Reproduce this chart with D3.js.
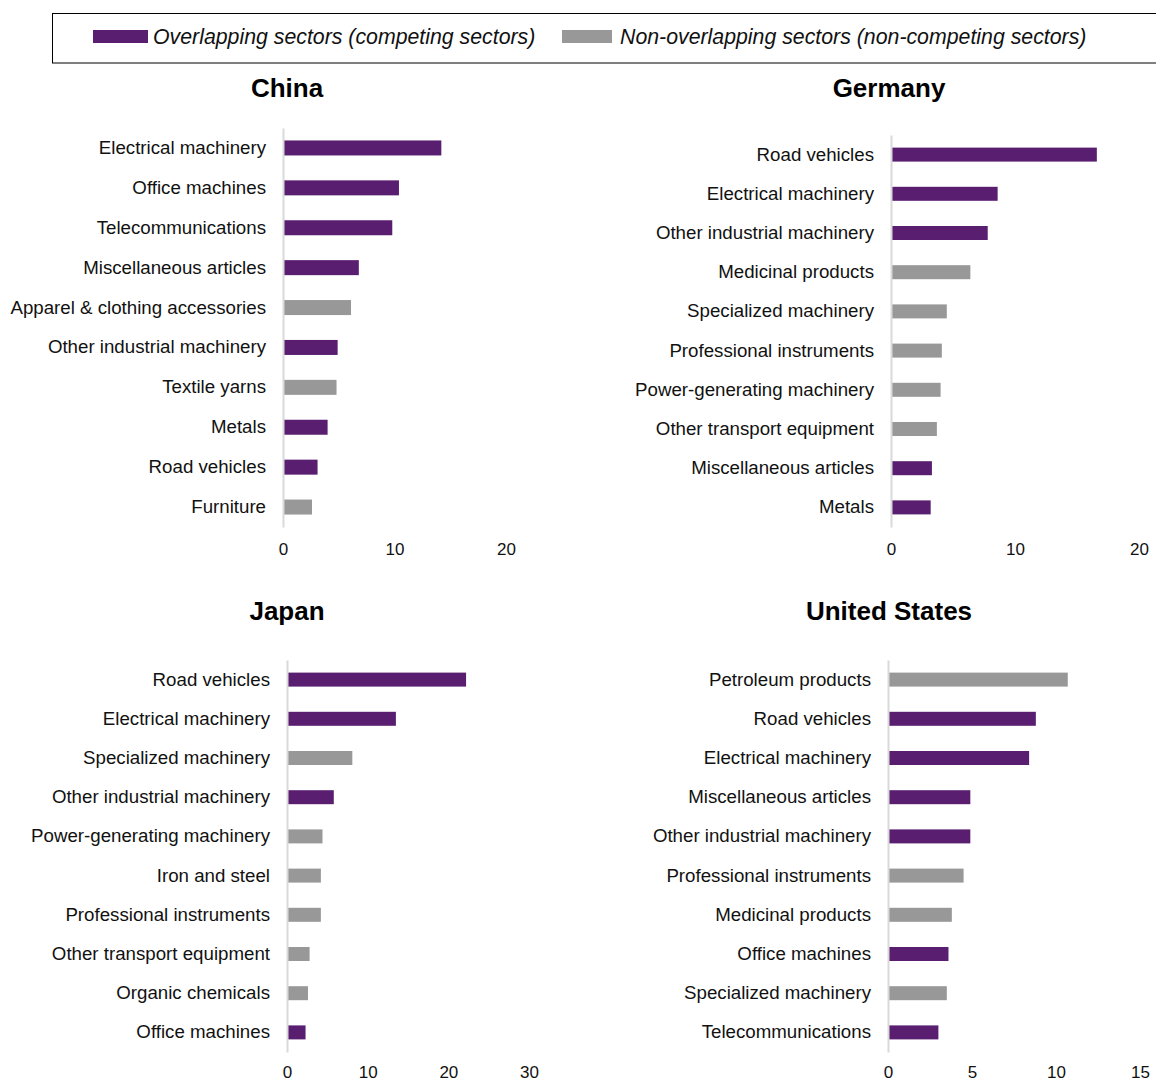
<!DOCTYPE html>
<html>
<head>
<meta charset="utf-8">
<script src="https://cdn.jsdelivr.net/npm/d3@7"></script>
<style>
  body { margin: 0; background: #fff; }
  svg { display: block; font-family: "Liberation Sans", Arial, sans-serif; }
</style>
</head>
<body>
<div id="chart"></div>
<script>
// Data (top sectors by country, % share)
const chinaSectors = ['Electrical machinery', 'Office machines', 'Telecommunications', 'Miscellaneous articles',
  'Apparel & clothing accessories', 'Other industrial machinery', 'Textile yarns', 'Metals', 'Road vehicles', 'Furniture'];
const chinaValues = [14.2, 10.4, 9.8, 6.8, 6.1, 4.9, 4.8, 4.0, 3.1, 2.6];
const chinaOverlap = [1, 1, 1, 1, 0, 1, 0, 1, 1, 0];

const germanySectors = ['Road vehicles', 'Electrical machinery', 'Other industrial machinery', 'Medicinal products',
  'Specialized machinery', 'Professional instruments', 'Power-generating machinery', 'Other transport equipment',
  'Miscellaneous articles', 'Metals'];
const germanyValues = [16.6, 8.6, 7.8, 6.4, 4.5, 4.1, 4.0, 3.7, 3.3, 3.2];
const germanyOverlap = [1, 1, 1, 0, 0, 0, 0, 0, 1, 1];

const japanSectors = ['Road vehicles', 'Electrical machinery', 'Specialized machinery', 'Other industrial machinery',
  'Power-generating machinery', 'Iron and steel', 'Professional instruments', 'Other transport equipment',
  'Organic chemicals', 'Office machines'];
const japanValues = [22.2, 13.5, 8.1, 5.8, 4.4, 4.2, 4.2, 2.8, 2.6, 2.3];
const japanOverlap = [1, 1, 0, 1, 0, 0, 0, 0, 0, 1];

const usSectors = ['Petroleum products', 'Road vehicles', 'Electrical machinery', 'Miscellaneous articles',
  'Other industrial machinery', 'Professional instruments', 'Medicinal products', 'Office machines',
  'Specialized machinery', 'Telecommunications'];
const usValues = [10.7, 8.8, 8.4, 4.9, 4.9, 4.5, 3.8, 3.6, 3.5, 3.0];
const usOverlap = [0, 1, 1, 1, 1, 0, 0, 1, 0, 1];

const legendLabels = ['Overlapping sectors (competing sectors)', 'Non-overlapping sectors (non-competing sectors)'];

const colors = { overlap: '#5a1e71', other: '#989898', axis: '#d9d9d9' };

const width = 1156, height = 1081;
const svg = d3.select('#chart').append('svg')
  .attr('width', width)
  .attr('height', height);

// Legend box
const legend = svg.append('g');
legend.append('rect')
  .attr('x', 52.5).attr('y', 13.5)
  .attr('width', 1120).attr('height', 49.5)
  .attr('fill', 'none').attr('stroke', '#000').attr('stroke-width', 1);
const legendX = [93, 562];
legendLabels.forEach((label, i) => {
  legend.append('rect')
    .attr('x', legendX[i]).attr('y', 30)
    .attr('width', i === 0 ? 55 : 50).attr('height', 13)
    .attr('fill', i === 0 ? colors.overlap : colors.other);
  legend.append('text')
    .attr('x', legendX[i] + (i === 0 ? 60 : 58)).attr('y', 44)
    .attr('font-size', 21.3).attr('font-style', 'italic')
    .attr('fill', '#111')
    .text(label);
});

// Panels
const panels = [
  { title: 'China', sectors: chinaSectors, values: chinaValues, overlap: chinaOverlap,
    titleX: 287, titleY: 97, x0: 283, x1: 506, max: 20, ticks: [0, 10, 20], y0: 128, y1: 527, barH: 15, tickY: 549 },
  { title: 'Germany', sectors: germanySectors, values: germanyValues, overlap: germanyOverlap,
    titleX: 889, titleY: 97, x0: 891, x1: 1139, max: 20, ticks: [0, 10, 20], y0: 135, y1: 527, barH: 14, tickY: 549 },
  { title: 'Japan', sectors: japanSectors, values: japanValues, overlap: japanOverlap,
    titleX: 287, titleY: 620, x0: 287, x1: 529, max: 30, ticks: [0, 10, 20, 30], y0: 660, y1: 1052, barH: 14, tickY: 1072 },
  { title: 'United States', sectors: usSectors, values: usValues, overlap: usOverlap,
    titleX: 889, titleY: 620, x0: 888, x1: 1140, max: 15, ticks: [0, 5, 10, 15], y0: 660, y1: 1052, barH: 14, tickY: 1072 }
];

panels.forEach(p => {
  const g = svg.append('g');
  const bandW = (p.y1 - p.y0) / p.sectors.length;

  const x = d3.scaleLinear().domain([0, p.max]).range([p.x0, p.x1]);
  const y = d3.scaleBand().domain(p.sectors).range([p.y0, p.y1])
    .paddingInner(1 - p.barH / bandW).paddingOuter((1 - p.barH / bandW) / 2);

  g.append('text')
    .attr('x', p.titleX).attr('y', p.titleY)
    .attr('text-anchor', 'middle')
    .attr('font-size', 26).attr('font-weight', 'bold')
    .attr('fill', '#000')
    .text(p.title);

  const data = p.sectors.map((s, i) => ({ sector: s, value: p.values[i], overlap: p.overlap[i] }));

  g.selectAll('rect.bar')
    .data(data)
    .enter().append('rect')
    .attr('class', 'bar')
    .attr('x', x(0))
    .attr('y', d => y(d.sector))
    .attr('width', d => x(d.value) - x(0))
    .attr('height', y.bandwidth())
    .attr('fill', d => d.overlap ? colors.overlap : colors.other);

  // category axis
  const yAxis = g.append('g')
    .attr('transform', `translate(${p.x0},0)`)
    .call(d3.axisLeft(y).tickSize(0).tickSizeOuter(0).tickPadding(17));
  yAxis.select('.domain')
    .attr('stroke', colors.axis).attr('stroke-width', 2);
  yAxis.selectAll('text')
    .attr('font-size', 18.7).attr('fill', '#111')
    .attr('font-family', '"Liberation Sans", Arial, sans-serif');

  // value axis (labels only)
  const xAxis = g.append('g')
    .attr('transform', `translate(0,${p.tickY - 8})`)
    .call(d3.axisBottom(x).tickValues(p.ticks).tickSize(0).tickPadding(2));
  xAxis.select('.domain').remove();
  xAxis.selectAll('text')
    .attr('font-size', 17).attr('fill', '#111')
    .attr('font-family', '"Liberation Sans", Arial, sans-serif');
});
</script>
</body>
</html>
